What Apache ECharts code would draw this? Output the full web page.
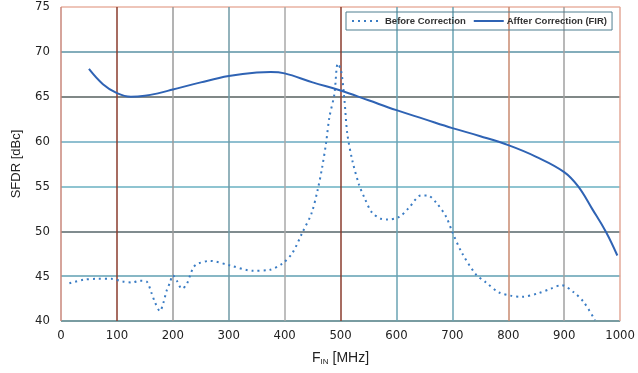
<!DOCTYPE html>
<html>
<head>
<meta charset="utf-8">
<title>SFDR</title>
<script src="https://cdn.jsdelivr.net/npm/echarts@6/dist/echarts.min.js"></script>
<style>
  html, body { margin: 0; padding: 0; background: #fff; }
  #main { width: 638px; height: 373px; }
</style>
</head>
<body>
<div id="main"></div>
<script>
// frequency (MHz), SFDR (dBc)
var beforeData = [
  [15, 44.2], [40, 44.6], [65, 44.7], [90, 44.7], [110, 44.4], [128, 44.3], [141, 44.5],
  [153, 44.4], [162, 43.1], [168, 42.1], [177, 41.1], [183, 42], [189, 43.4], [195, 44.3],
  [200, 45.1], [208, 44.4], [216, 43.6], [224, 44], [231, 45.1], [237, 46], [245, 46.4],
  [266, 46.7], [302, 46.2], [343, 45.6], [373, 45.7], [396, 46.4], [414, 47.6], [432, 49.9],
  [448, 52], [459, 54.6], [467, 57.1], [474, 59.8], [480, 62.7], [489, 65.3], [495, 68.7],
  [501, 67.9], [507, 64.6], [512, 60.9], [521, 57.9], [533, 55.2], [543, 53.7], [556, 52.1],
  [572, 51.4], [584, 51.3], [605, 51.6], [622, 52.6], [644, 54], [655, 54], [671, 53.2],
  [689, 51.6], [700, 49.9], [717, 47.6], [742, 45.2], [760, 44.3], [783, 43.2], [806, 42.8],
  [824, 42.7], [854, 43.1], [876, 43.6], [895, 44], [917, 43.2], [935, 42.1], [955, 40.1]
];
var afterData = [
  [50, 68.1], [75, 66.4], [100, 65.4], [125, 65.0], [150, 65.1], [175, 65.4], [200, 65.8],
  [250, 66.6], [300, 67.3], [350, 67.7], [375, 67.75], [400, 67.6], [450, 66.6], [500, 65.7],
  [550, 64.6], [600, 63.5], [650, 62.5], [700, 61.5], [750, 60.6], [800, 59.6], [850, 58.3],
  [900, 56.6], [925, 55], [950, 52.5], [975, 49.9], [995, 47.3]
];
var seriesNames = ['Before Correction', 'Affter Correction (FIR)'];

// grid line colours as they appear in the print
var vLineColors = ['#c9867a', '#8a3b2c', '#9a9a9a', '#6f9aa6', '#a8a8a8', '#8a3b2c',
                   '#6aa3b3', '#6aa3b3', '#c98a70', '#a0a0a0', '#e3a898'];
var hLineColors = ['#4d7b82', '#5f9fb2', '#56666a', '#6ab0c2', '#6aaac0', '#56605f',
                   '#5a92a4', '#e8b2a2'];

var narrow = "'DejaVu Sans Condensed', 'Liberation Sans Narrow', Roboto, sans-serif";

var chart = echarts.init(document.getElementById('main'));
chart.setOption({
  animation: false,
  backgroundColor: '#fff',
  grid: { left: 61, right: 16, top: 7, bottom: 52 },
  legend: {
    data: seriesNames,
    left: 346, top: 12,
    itemWidth: 30, itemHeight: 8, itemGap: 7,
    padding: [4, 5],
    borderColor: '#4f7f90', borderWidth: 1,
    itemStyle: { opacity: 0 },
    textStyle: { fontFamily: 'Liberation Sans, Arial, sans-serif', fontWeight: 'bold', fontSize: 9.5, color: '#333', padding: [0, 0, 0, -2] }
  },
  xAxis: {
    type: 'value', min: 0, max: 1000, interval: 100,
    name: '{f|F}{s|IN}{f| [MHz]}',
    nameLocation: 'middle', nameGap: 29,
    nameTextStyle: {
      rich: {
        f: { fontFamily: 'Liberation Sans, Arial, sans-serif', fontSize: 14, color: '#222' },
        s: { fontFamily: 'Liberation Sans, Arial, sans-serif', fontSize: 8, color: '#222', padding: [8, 0, 0, 0] }
      }
    },
    axisLine: { show: false },
    axisTick: { show: false },
    axisLabel: { fontFamily: narrow, fontSize: 13, color: '#222', margin: 8, formatter: function (v) { return String(v); } },
    splitLine: { show: true, lineStyle: { color: vLineColors, width: 1.5 } }
  },
  yAxis: {
    type: 'value', min: 40, max: 75, interval: 5,
    name: 'SFDR [dBc]',
    nameLocation: 'middle', nameGap: 38,
    nameTextStyle: { fontFamily: 'Liberation Sans, Arial, sans-serif', fontSize: 13, color: '#222' },
    axisLine: { show: false },
    axisTick: { show: false },
    axisLabel: { fontFamily: narrow, fontSize: 13, color: '#222', margin: 11 },
    splitLine: { show: true, lineStyle: { color: hLineColors, width: 1.5 } }
  },
  series: [
    {
      name: seriesNames[0], type: 'line', data: beforeData,
      smooth: 0.3, showSymbol: false, symbol: 'none',
      itemStyle: { color: '#3a7cc4' },
      lineStyle: { color: '#3a7cc4', width: 2, type: [2, 4] }
    },
    {
      name: seriesNames[1], type: 'line', data: afterData,
      smooth: 0.4, showSymbol: false, symbol: 'none',
      itemStyle: { color: '#2f63b4' },
      lineStyle: { color: '#2f63b4', width: 2 }
    }
  ]
});
</script>
</body>
</html>
